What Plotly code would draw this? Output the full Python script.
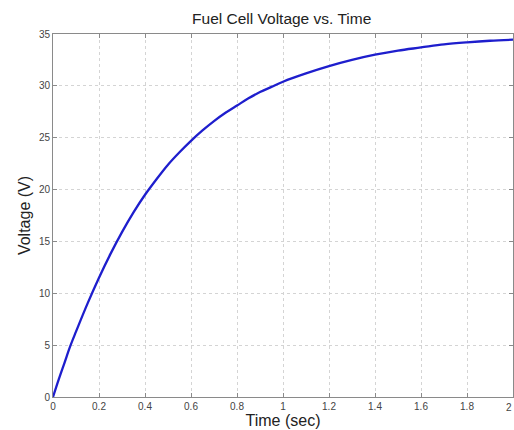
import plotly.graph_objects as go

time_s = [0, 0.025, 0.05, 0.075, 0.1, 0.15, 0.2, 0.25, 0.3, 0.35, 0.4, 0.45, 0.5, 0.55, 0.6,
          0.65, 0.7, 0.75, 0.8, 0.85, 0.9, 0.95, 1.0, 1.1, 1.2, 1.3, 1.4, 1.5, 1.6, 1.7, 1.8, 1.9, 2.0]
voltage = [0, 1.7, 3.3, 4.9, 6.3, 9.0, 11.5, 13.8, 15.9, 17.8, 19.5, 21.0, 22.4, 23.6, 24.7,
           25.7, 26.6, 27.4, 28.1, 28.8, 29.4, 29.9, 30.4, 31.2, 31.9, 32.5, 33.0, 33.4, 33.7,
           34.0, 34.2, 34.35, 34.45]
x_ticks = [0, 0.2, 0.4, 0.6, 0.8, 1, 1.2, 1.4, 1.6, 1.8, 2]
x_labels = ["0", "0.2", "0.4", "0.6", "0.8", "1", "1.2", "1.4", "1.6", "1.8", "2"]
y_ticks = [0, 5, 10, 15, 20, 25, 30, 35]

fig = go.Figure()
fig.add_trace(go.Scatter(x=time_s, y=voltage, mode="lines",
                         line=dict(color="rgb(30,30,205)", width=2.3, shape="spline", smoothing=1.0)))

font = "Liberation Sans, Arial, sans-serif"
axis_common = dict(
    showline=True, linecolor="#8a8a8a", linewidth=1, mirror="allticks",
    ticks="inside", ticklen=4, tickcolor="#8a8a8a",
    showgrid=True, gridcolor="#d4d4d4", griddash="dot", gridwidth=1,
    zeroline=False, tickfont=dict(family=font, size=10, color="#444444"),
)
fig.update_xaxes(range=[0, 2], tickvals=x_ticks, ticktext=x_labels,
                 title=dict(text="Time (sec)", font=dict(family=font, size=16, color="#222222"), standoff=2),
                 **axis_common)
fig.update_yaxes(range=[0, 35], tickvals=y_ticks,
                 title=dict(text="Voltage (V)", font=dict(family=font, size=16, color="#222222"), standoff=4),
                 **axis_common)
# last x tick label sits on the page edge; anchor it right so it stays visible
fig.add_annotation(x=x_ticks[-1], y=0, xref="x", yref="paper", text=x_labels[-1],
                   showarrow=False, yanchor="top", xanchor="right", yshift=-3, xshift=1,
                   font=dict(family=font, size=10, color="#444444"))
fig.update_layout(
    width=514, height=430,
    margin=dict(l=53, r=1, t=34, b=33),
    paper_bgcolor="white", plot_bgcolor="white",
    showlegend=False,
    title=dict(text="Fuel Cell Voltage vs. Time", x=0.548, xanchor="center", y=0.956, yanchor="middle",
               font=dict(family=font, size=15.5, color="#222222")),
)
fig.write_html("out.html")
